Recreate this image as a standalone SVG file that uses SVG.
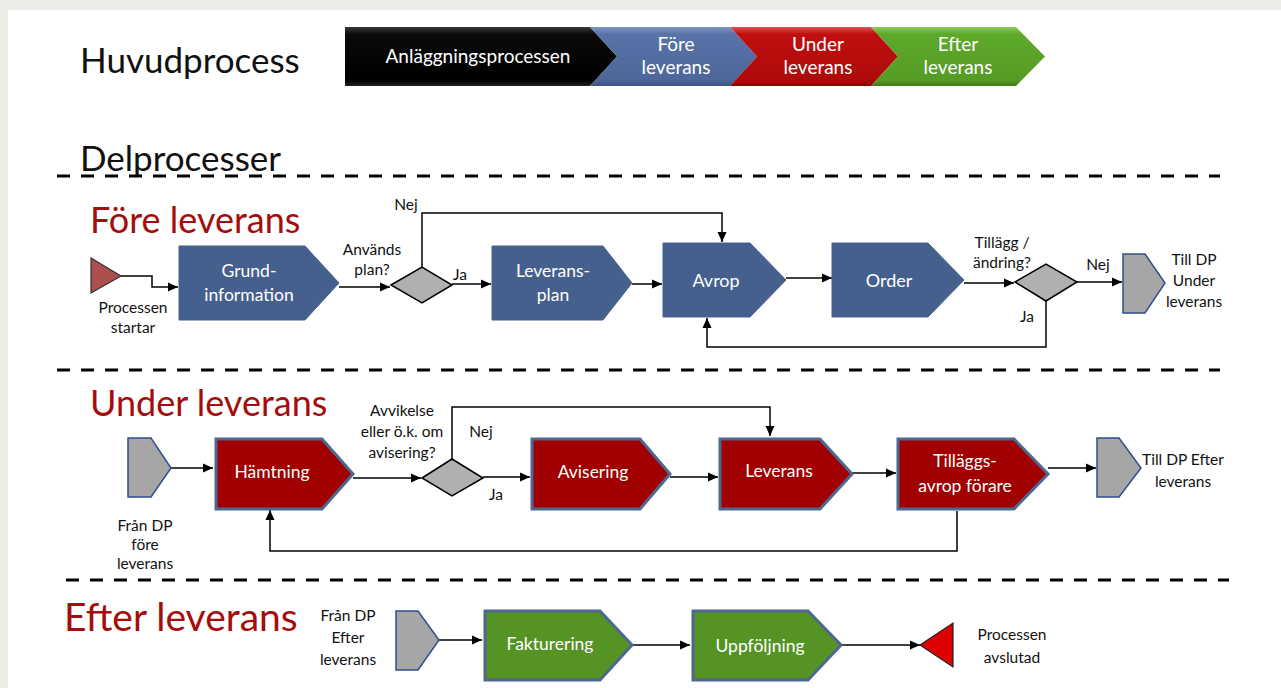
<svg xmlns="http://www.w3.org/2000/svg" width="1281" height="688" viewBox="0 0 1281 688">
<defs>
<style>
text{font-family:Lato,"Open Sans","Liberation Sans",sans-serif}
.h1{font-size:35px;fill:#111}
.sec{font-size:36px;fill:#A50D0D}
.bn{font-size:19px;fill:#fff;text-anchor:middle}
.bx{font-size:17.5px;fill:#fff;text-anchor:middle}
.lb{font-size:15.5px;fill:#111;text-anchor:middle}
.dash{stroke:#000;stroke-width:3;stroke-dasharray:13 11;fill:none}
.c{stroke:#000;stroke-width:1.5;fill:none}
.ca{stroke:#000;stroke-width:1.5;fill:none;marker-end:url(#arr)}
.blue{fill:#46608D;stroke:#46608D;stroke-width:1}
.red{fill:#A00000;stroke:#4E6791;stroke-width:3}
.grn{fill:#559325;stroke:#4E6791;stroke-width:3}
.gray{fill:#A6A6A6;stroke:#2F4F8F;stroke-width:1.5}
.dia{fill:#B0B0B0;stroke:#000;stroke-width:1.5}
</style>
<marker id="arr" viewBox="0 0 10 10" refX="10" refY="5" markerWidth="10" markerHeight="10" markerUnits="userSpaceOnUse" orient="auto"><path d="M0,0.5 L10,5 L0,9.5 z" fill="#000"/></marker>
<linearGradient id="gK" x1="0" y1="0" x2="0" y2="1"><stop offset="0" stop-color="#3a3a3a"/><stop offset="0.12" stop-color="#0a0a0a"/><stop offset="0.9" stop-color="#000"/><stop offset="1" stop-color="#222"/></linearGradient>
<linearGradient id="gB" x1="0" y1="0" x2="0" y2="1"><stop offset="0" stop-color="#7C95C4"/><stop offset="0.12" stop-color="#5873A8"/><stop offset="0.9" stop-color="#4D679A"/><stop offset="1" stop-color="#3E5580"/></linearGradient>
<linearGradient id="gR" x1="0" y1="0" x2="0" y2="1"><stop offset="0" stop-color="#E05050"/><stop offset="0.12" stop-color="#C00F0F"/><stop offset="0.9" stop-color="#AE0A0A"/><stop offset="1" stop-color="#8A0000"/></linearGradient>
<linearGradient id="gG" x1="0" y1="0" x2="0" y2="1"><stop offset="0" stop-color="#8CCB55"/><stop offset="0.12" stop-color="#5EA92B"/><stop offset="0.9" stop-color="#559C24"/><stop offset="1" stop-color="#3F7A18"/></linearGradient>
</defs>

<rect x="0" y="0" width="1281" height="688" fill="#EDEDE8"/>
<rect x="8" y="10" width="1273" height="678" fill="#fff"/>

<text class="h1" x="80" y="73">Huvudprocess</text>
<text class="h1" x="80" y="171">Delprocesser</text>

<g id="banner">
<g id="b-anl"><path d="M345,27 H590 L617,56.5 L590,86 H345 Z" fill="url(#gK)"/><text class="bn" x="478" y="63">Anläggningsprocessen</text></g>
<g id="b-fore"><path d="M590,27 H730 L757,56.5 L730,86 H590 L617,56.5 Z" fill="url(#gB)"/><text class="bn" x="676" y="51">Före</text><text class="bn" x="676" y="74">leverans</text></g>
<g id="b-under"><path d="M730,27 H871 L898,56.5 L871,86 H730 L757,56.5 Z" fill="url(#gR)"/><text class="bn" x="818" y="51">Under</text><text class="bn" x="818" y="74">leverans</text></g>
<g id="b-efter"><path d="M871,27 H1016 L1045,56.5 L1016,86 H871 L898,56.5 Z" fill="url(#gG)"/><text class="bn" x="958" y="51">Efter</text><text class="bn" x="958" y="74">leverans</text></g>
</g>

<line class="dash" x1="57" y1="176" x2="1220" y2="176"/>
<line class="dash" x1="57" y1="370" x2="1220" y2="370"/>
<line class="dash" x1="66" y1="580" x2="1229" y2="580"/>

<text class="sec" x="90" y="233">Före leverans</text>
<text class="sec" x="90" y="416">Under leverans</text>
<text class="sec" x="64" y="631" style="font-size:39px">Efter leverans</text>

<g id="connectors">
<polyline class="ca" points="121,276 152,276 152,287 178,287"/>
<line class="ca" x1="339" y1="287" x2="390" y2="287"/>
<line class="ca" x1="452" y1="284" x2="491" y2="284"/>
<polyline class="ca" points="422,267 422,213 722,213 722,242"/>
<line class="ca" x1="632" y1="284" x2="662" y2="284"/>
<line class="ca" x1="786" y1="278" x2="832" y2="278"/>
<line class="ca" x1="964" y1="283" x2="1014" y2="283"/>
<line class="ca" x1="1077" y1="282" x2="1122" y2="282"/>
<polyline class="ca" points="1046,301 1046,347 707,347 707,318"/>

<line class="ca" x1="171" y1="468" x2="213" y2="468"/>
<line class="ca" x1="353" y1="478" x2="421" y2="478"/>
<polyline class="ca" points="452,459 452,407 770,407 770,436"/>
<line class="ca" x1="483" y1="477" x2="530" y2="477"/>
<line class="ca" x1="670" y1="477" x2="718" y2="477"/>
<line class="ca" x1="852" y1="473" x2="896" y2="473"/>
<line class="ca" x1="1048" y1="468" x2="1096" y2="468"/>
<polyline class="ca" points="957,511 957,551 270,551 270,510"/>

<line class="ca" x1="439" y1="640" x2="482" y2="640"/>
<line class="ca" x1="632" y1="645" x2="690" y2="645"/>
<line class="ca" x1="841" y1="645" x2="920" y2="645"/>
</g>

<g id="start"><path d="M91,258 L121,276 L91,293 Z" fill="#AD4F4F" stroke="#333" stroke-width="1.2"/><text class="lb" x="133" y="313">Processen</text><text class="lb" x="133" y="333">startar</text></g>
<g id="grund"><path class="blue" d="M179,246 H305 L339,283 L305,320 H179 Z"/><text class="bx" x="249" y="277">Grund-</text><text class="bx" x="249" y="301">information</text></g>
<g id="d1"><path class="dia" d="M391,285 L422,267 L452,285 L422,303 Z"/><text class="lb" x="372" y="255">Används</text><text class="lb" x="372" y="275">plan?</text><text class="lb" x="406" y="210">Nej</text><text class="lb" x="460" y="280">Ja</text></g>
<g id="levplan"><path class="blue" d="M492,246 H603 L632,283 L603,320 H492 Z"/><text class="bx" x="553" y="277">Leverans-</text><text class="bx" x="553" y="301">plan</text></g>
<g id="avrop"><path class="blue" d="M663,243 H750 L786,280 L750,317 H663 Z"/><text class="bx" x="716" y="287" style="font-size:18px">Avrop</text></g>
<g id="order"><path class="blue" d="M832,243 H928 L964,280 L928,317 H832 Z"/><text class="bx" x="889" y="287" style="font-size:18px">Order</text></g>
<g id="d2"><path class="dia" d="M1015,282 L1046,264 L1077,282 L1046,301 Z"/><text class="lb" x="1002" y="248">Tillägg /</text><text class="lb" x="1002" y="268">ändring?</text><text class="lb" x="1098" y="270">Nej</text><text class="lb" x="1027" y="322">Ja</text></g>
<g id="till-under"><path class="gray" d="M1123,254 H1145 L1165,283 L1145,313 H1123 Z"/><text class="lb" x="1194" y="265">Till DP</text><text class="lb" x="1194" y="286">Under</text><text class="lb" x="1194" y="307">leverans</text></g>

<g id="fran-fore"><path class="gray" d="M128,438 H151 L171,468 L151,497 H128 Z"/><text class="lb" x="145" y="531">Från DP</text><text class="lb" x="145" y="550">före</text><text class="lb" x="145" y="569">leverans</text></g>
<g id="hamtning"><path class="red" d="M216,439 H322 L353,474 L322,509 H216 Z"/><text class="bx" x="272" y="478">Hämtning</text></g>
<g id="d3"><path class="dia" d="M422,478 L452,459 L483,478 L452,496 Z"/><text class="lb" x="402" y="416">Avvikelse</text><text class="lb" x="402" y="437">eller ö.k. om</text><text class="lb" x="402" y="458">avisering?</text><text class="lb" x="481" y="437">Nej</text><text class="lb" x="496" y="500">Ja</text></g>
<g id="avisering"><path class="red" d="M532,439 H640 L670,474 L640,509 H532 Z"/><text class="bx" x="593" y="478">Avisering</text></g>
<g id="leverans"><path class="red" d="M720,439 H820 L852,474 L820,509 H720 Z"/><text class="bx" x="779" y="477">Leverans</text></g>
<g id="tillaggs"><path class="red" d="M898,439 H1014 L1048,474 L1014,509 H898 Z"/><text class="bx" x="965" y="467">Tilläggs-</text><text class="bx" x="965" y="492">avrop förare</text></g>
<g id="till-efter"><path class="gray" d="M1097,438 H1119 L1141,468 L1119,497 H1097 Z"/><text class="lb" x="1183" y="465">Till DP Efter</text><text class="lb" x="1183" y="487">leverans</text></g>

<g id="fran-efter"><path class="gray" d="M396,611 H418 L439,640 L418,670 H396 Z"/><text class="lb" x="348" y="621">Från DP</text><text class="lb" x="348" y="643">Efter</text><text class="lb" x="348" y="665">leverans</text></g>
<g id="fakturering"><path class="grn" d="M485,611 H600 L632,645 L600,680 H485 Z"/><text class="bx" x="550" y="650">Fakturering</text></g>
<g id="uppfoljning"><path class="grn" d="M693,611 H808 L841,645 L808,680 H693 Z"/><text class="bx" x="760" y="652">Uppföljning</text></g>
<g id="end"><path d="M920,645 L953,623 L953,667 Z" fill="#DD0000" stroke="#222" stroke-width="1.2"/><text class="lb" x="1012" y="640">Processen</text><text class="lb" x="1012" y="663">avslutad</text></g>
</svg>
